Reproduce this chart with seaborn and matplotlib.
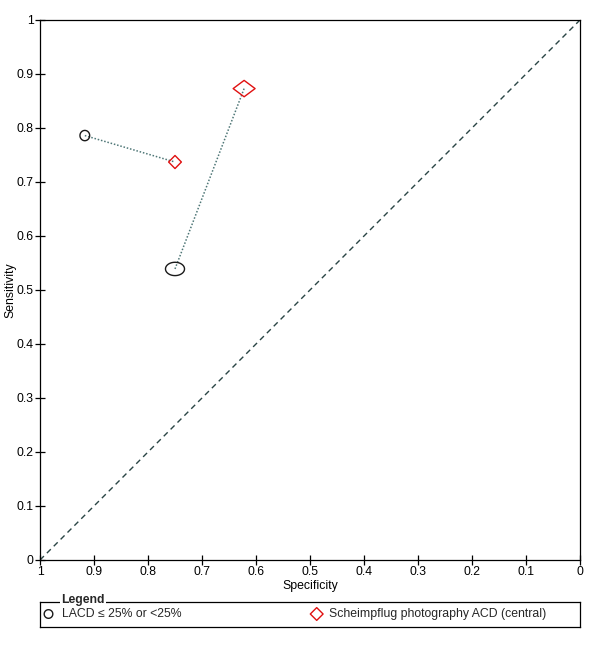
import numpy as np
import pandas as pd
import matplotlib
matplotlib.use("Agg")
import matplotlib.pyplot as plt
from matplotlib.path import Path
import seaborn as sns

# ---- data ----
studies = ["Study A", "Study B"]
lacd_spec = [0.917, 0.750]
lacd_sens = [0.786, 0.539]
sch_spec = [0.750, 0.622]
sch_sens = [0.737, 0.873]
tick_vals = [0, 0.1, 0.2, 0.3, 0.4, 0.5, 0.6, 0.7, 0.8, 0.9, 1]
tick_labels = ["0", "0.1", "0.2", "0.3", "0.4", "0.5", "0.6", "0.7", "0.8", "0.9", "1"]
legend_labels = ["LACD \u2264 25% or <25%", "Scheimpflug photography ACD (central)"]

# marker extents (points): width, height
lacd_wh = [(7.0, 7.4), (13.7, 9.6)]
sch_wh = [(9.2, 9.4), (15.8, 11.8)]

FS = 8.8

sns.set_theme(style="white")
plt.rcParams['font.family'] = ['Liberation Sans', 'DejaVu Sans']

fig = plt.figure(figsize=(6, 6.48), dpi=100)
ax = fig.add_axes([40/600, 1-560/648, 540/600, 540/648])

def ellipse_path(w, h):
    t = np.linspace(0, 2*np.pi, 64)
    v = np.column_stack([np.cos(t)*w/2, np.sin(t)*h/2])
    return Path(v, closed=True)

def diamond_path(w, h):
    v = [(0, h/2), (w/2, 0), (0, -h/2), (-w/2, 0), (0, h/2)]
    return Path(v, closed=True)

# diagonal reference
diag = pd.DataFrame({"x": [1, 0], "y": [0, 1]})
sns.lineplot(data=diag, x="x", y="y", ax=ax, color="#2a4545", lw=1.0,
             linestyle=(0, (4, 3)), estimator=None, sort=False)

# connecting lines
rows = []
for i, s in enumerate(studies):
    rows.append({"study": s, "spec": lacd_spec[i], "sens": lacd_sens[i]})
    rows.append({"study": s, "spec": sch_spec[i], "sens": sch_sens[i]})
conn = pd.DataFrame(rows)
sns.lineplot(data=conn, x="spec", y="sens", units="study", estimator=None, sort=False,
             ax=ax, color="#4f7777", lw=1.1, linestyle=(0, (1, 1.2)), legend=False)

for i in range(len(studies)):
    w, h = lacd_wh[i]
    sns.scatterplot(x=[lacd_spec[i]], y=[lacd_sens[i]], ax=ax, marker=ellipse_path(w, h),
                    s=max(w, h)**2, facecolor="none", edgecolor="#1a1a1a", linewidth=1.0,
                    zorder=5, legend=False)
    w, h = sch_wh[i]
    sns.scatterplot(x=[sch_spec[i]], y=[sch_sens[i]], ax=ax, marker=diamond_path(w, h),
                    s=max(w, h)**2, facecolor="none", edgecolor="#e01010", linewidth=1.0,
                    zorder=5, legend=False)

ax.set_xlim(1, 0)
ax.set_ylim(0, 1)
ax.set_xticks(tick_vals)
ax.set_xticklabels(tick_labels)
ax.set_yticks(tick_vals)
ax.set_yticklabels(tick_labels)
ax.tick_params(axis="both", which="both", direction="inout", length=7, width=0.9,
               labelsize=FS, colors="black", bottom=True, left=True, pad=1.0)
for sp in ax.spines.values():
    sp.set_color("black")
    sp.set_linewidth(0.9)
ax.set_xlabel("Specificity", fontsize=FS, color="black", labelpad=1)
ax.set_ylabel("Sensitivity", fontsize=FS, color="black", labelpad=0)
ax.grid(False)

# ---- legend box ----
lax = fig.add_axes([40/600, 1-627/648, 540/600, 25/648])
lax.set_xlim(0, 540)
lax.set_ylim(0, 25)
lax.set_xticks([])
lax.set_yticks([])
for sp in lax.spines.values():
    sp.set_color("black")
    sp.set_linewidth(0.9)
lax.patch.set_alpha(0)
lax.scatter([8.5], [13], marker=ellipse_path(6.2, 6.2), s=6.2**2, facecolor="none",
            edgecolor="#1a1a1a", linewidth=1.0, clip_on=False)
lax.text(22, 13, legend_labels[0], fontsize=FS, va="center", ha="left")
lax.scatter([276.7], [13], marker=diamond_path(9.2, 9.2), s=9.2**2, facecolor="none",
            edgecolor="#e01010", linewidth=1.0, clip_on=False)
lax.text(289, 13, legend_labels[1], fontsize=FS, va="center", ha="left")
lax.text(21.5, 27.5, "Legend", fontsize=FS, fontweight="bold", va="center", ha="left",
         bbox=dict(facecolor="white", edgecolor="none", pad=1.0), clip_on=False, zorder=10)

fig.savefig("out.png", dpi=100)
